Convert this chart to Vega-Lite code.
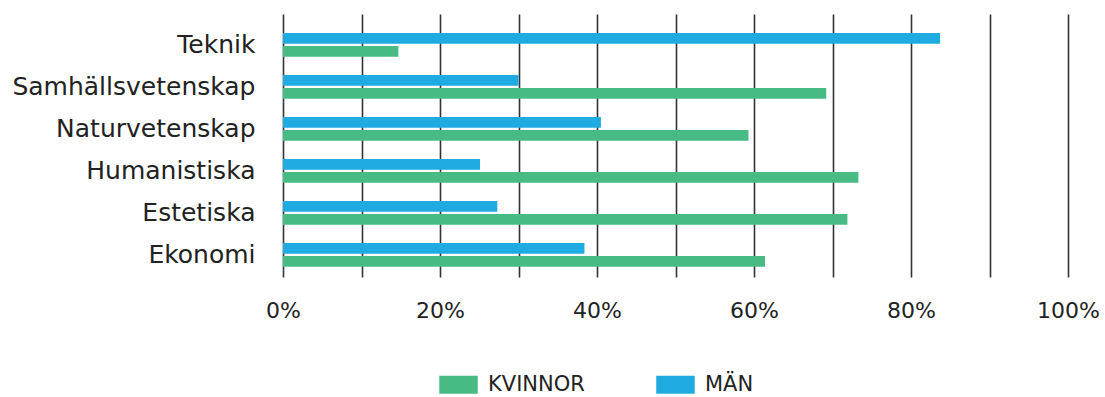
{
  "$schema": "https://vega.github.io/schema/vega-lite/v6.json",
  "autosize": {"type": "none"},
  "padding": {"left": 283, "top": 14, "right": 37, "bottom": 120},
  "width": 785,
  "height": 263,
  "background": "white",
  "data": {
    "values": [
      {"omrade": "Teknik", "kon": "MÄN", "andel": 83.7},
      {"omrade": "Teknik", "kon": "KVINNOR", "andel": 14.7},
      {"omrade": "Samhällsvetenskap", "kon": "MÄN", "andel": 30.0},
      {"omrade": "Samhällsvetenskap", "kon": "KVINNOR", "andel": 69.2},
      {"omrade": "Naturvetenskap", "kon": "MÄN", "andel": 40.5},
      {"omrade": "Naturvetenskap", "kon": "KVINNOR", "andel": 59.3},
      {"omrade": "Humanistiska", "kon": "MÄN", "andel": 25.1},
      {"omrade": "Humanistiska", "kon": "KVINNOR", "andel": 73.3},
      {"omrade": "Estetiska", "kon": "MÄN", "andel": 27.3},
      {"omrade": "Estetiska", "kon": "KVINNOR", "andel": 71.9},
      {"omrade": "Ekonomi", "kon": "MÄN", "andel": 38.4},
      {"omrade": "Ekonomi", "kon": "KVINNOR", "andel": 61.4}
    ]
  },
  "mark": {"type": "bar", "cornerRadius": 0},
  "encoding": {
    "y": {
      "field": "omrade",
      "type": "nominal",
      "sort": null,
      "scale": {"paddingInner": 0.436, "paddingOuter": 0.349, "align": 0.65},
      "axis": {
        "title": null,
        "domain": false,
        "ticks": false,
        "grid": false,
        "labelPadding": 28,
        "labelFont": "DejaVu Sans",
        "labelFontSize": 25,
        "labelLimit": 400,
        "labelColor": "#222222",
        "labelAlign": "right"
      }
    },
    "yOffset": {
      "field": "kon",
      "type": "nominal",
      "sort": ["MÄN", "KVINNOR"],
      "scale": {"paddingInner": 0.177, "paddingOuter": 0}
    },
    "x": {
      "field": "andel",
      "type": "quantitative",
      "scale": {"domain": [0, 100], "nice": false},
      "axis": {
        "title": null,
        "domain": false,
        "ticks": false,
        "grid": true,
        "gridColor": "#333333",
        "gridWidth": 1.6,
        "gridOpacity": 1,
        "values": [0, 10, 20, 30, 40, 50, 60, 70, 80, 90, 100],
        "labelExpr": "datum.value % 20 == 0 ? datum.value + '%' : ''",
        "labelPadding": 23,
        "labelFont": "DejaVu Sans",
        "labelFontSize": 22,
        "labelColor": "#222222",
        "labelFlush": false,
        "labelOverlap": false
      }
    },
    "color": {
      "field": "kon",
      "type": "nominal",
      "scale": {"domain": ["KVINNOR", "MÄN"], "range": ["#48BB84", "#1FABE1"]},
      "legend": {
        "title": null,
        "orient": "none",
        "direction": "horizontal",
        "legendX": 156,
        "legendY": 351,
        "padding": 0,
        "symbolType": "M-1,-0.47H1V0.47H-1Z",
        "symbolSize": 1480,
        "symbolStrokeWidth": 0,
        "symbolOpacity": 1,
        "labelOffset": 10,
        "labelFont": "DejaVu Sans",
        "labelFontSize": 21,
        "labelColor": "#222222",
        "columnPadding": 71
      }
    }
  },
  "config": {
    "view": {"stroke": null}
  }
}
